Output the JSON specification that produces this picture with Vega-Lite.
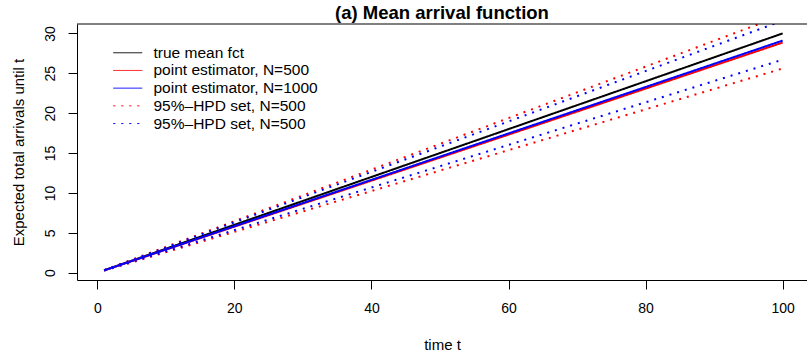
{
  "$schema": "https://vega.github.io/schema/vega-lite/v6.json",
  "width": 730,
  "height": 256,
  "autosize": {"type": "none"},
  "padding": {"left": 77, "top": 24, "right": 0, "bottom": 71},
  "background": "white",
  "config": {
    "view": {"stroke": null},
    "font": "Liberation Sans",
    "axis": {"grid": false, "domainColor": "black", "tickColor": "black", "labelColor": "black", "titleColor": "black", "labelFontSize": 14, "titleFontSize": 15, "titleFontWeight": "normal", "tickSize": 9, "labelFont": "Liberation Sans", "titleFont": "Liberation Sans"},
    "legend": {"labelFont": "Liberation Sans", "labelFontSize": 15.5, "labelColor": "black", "labelLimit": 400}
  },
  "title": {"text": "(a) Mean arrival function", "fontSize": 18.5, "fontWeight": "bold", "font": "Liberation Sans", "color": "black", "anchor": "middle", "baseline": "alphabetic", "offset": -14},
  "layer": [
    {
      "data": {"values": [
        {"series": "true mean fct", "bound": "mid", "t": 1, "y": 0.3},
        {"series": "true mean fct", "bound": "mid", "t": 100, "y": 30.0},
        {"series": "point estimator, N=500", "bound": "mid", "t": 1, "y": 0.2885},
        {"series": "point estimator, N=500", "bound": "mid", "t": 100, "y": 28.85},
        {"series": "point estimator, N=1000", "bound": "mid", "t": 1, "y": 0.291},
        {"series": "point estimator, N=1000", "bound": "mid", "t": 100, "y": 29.1},
        {"series": "95%–HPD set, N=500", "bound": "upper", "t": 1, "y": 0.323},
        {"series": "95%–HPD set, N=500", "bound": "upper", "t": 100, "y": 32.3},
        {"series": "95%–HPD set, N=500", "bound": "lower", "t": 1, "y": 0.256},
        {"series": "95%–HPD set, N=500", "bound": "lower", "t": 100, "y": 25.6},
        {"series": "95%–HPD set, N=500 ", "bound": "upper", "t": 1, "y": 0.316},
        {"series": "95%–HPD set, N=500 ", "bound": "upper", "t": 100, "y": 31.6},
        {"series": "95%–HPD set, N=500 ", "bound": "lower", "t": 1, "y": 0.267},
        {"series": "95%–HPD set, N=500 ", "bound": "lower", "t": 100, "y": 26.7}
      ]},
      "mark": {"type": "line", "clip": true, "strokeWidth": 2},
      "encoding": {
        "x": {"field": "t", "type": "quantitative",
          "scale": {"domain": [-2.96, 103.55], "nice": false, "zero": false},
          "axis": {"values": [0, 20, 40, 60, 80, 100], "labelPadding": 12, "labelAngle": 0, "title": "time t", "titlePadding": 22}},
        "y": {"field": "y", "type": "quantitative",
          "scale": {"domain": [-0.916, 31.18], "nice": false, "zero": false},
          "axis": {"values": [0, 5, 10, 15, 20, 25, 30], "labelAngle": -90, "labelAlign": "center", "labelBaseline": "alphabetic", "labelPadding": 14, "title": "Expected total arrivals until t", "titlePadding": 17}},
        "detail": {"field": "bound", "type": "nominal"},
        "color": {"field": "series", "type": "nominal",
          "scale": {"domain": ["true mean fct", "point estimator, N=500", "point estimator, N=1000", "95%–HPD set, N=500", "95%–HPD set, N=500 "], "range": ["#000000", "#ff0000", "#0000ff", "#ff0000", "#0000ff"]},
          "legend": {"title": null, "orient": "none", "legendX": 43, "legendY": 21, "symbolType": "M-3,0H3", "symbolSize": 93, "symbolStrokeWidth": 1, "labelOffset": 18, "rowPadding": 0.7, "padding": 0}},
        "strokeDash": {"field": "series", "type": "nominal",
          "scale": {"domain": ["true mean fct", "point estimator, N=500", "point estimator, N=1000", "95%–HPD set, N=500", "95%–HPD set, N=500 "], "range": [[1, 0], [1, 0], [1, 0], [2, 6], [2, 6]]},
          "legend": {"title": null, "orient": "none", "legendX": 43, "legendY": 21, "symbolType": "M-3,0H3", "symbolSize": 93, "symbolStrokeWidth": 1, "labelOffset": 18, "rowPadding": 0.7, "padding": 0}}
      }
    },
    {
      "data": {"values": [{"edge": 31.18}]},
      "mark": {"type": "rule", "color": "black", "strokeWidth": 1},
      "encoding": {"y": {"field": "edge", "type": "quantitative"}}
    }
  ]
}
